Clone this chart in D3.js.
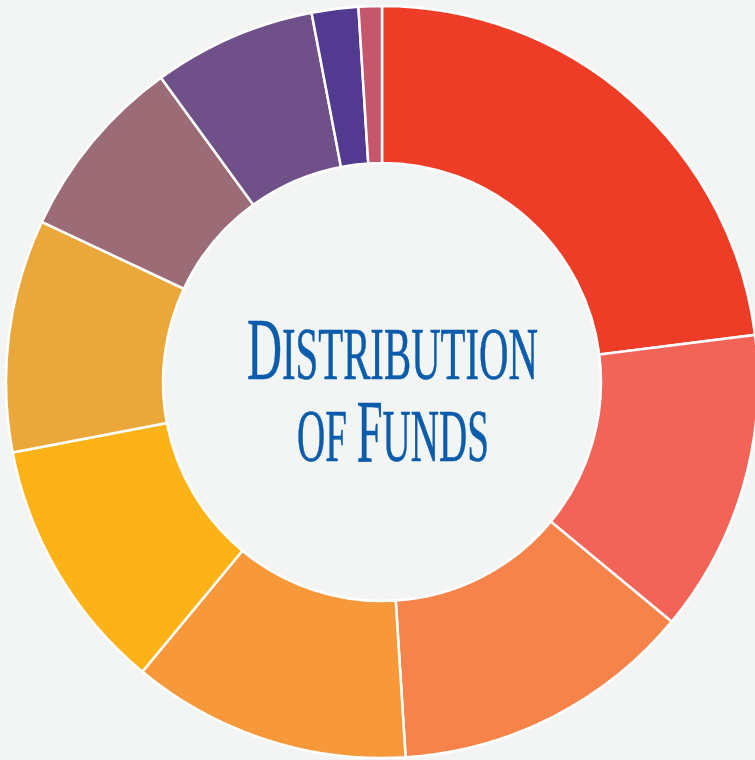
<!DOCTYPE html>
<html>
<head>
<meta charset="utf-8">
<script src="https://cdn.jsdelivr.net/npm/d3@7"></script>
<style>
	html, body { margin: 0; padding: 0; background: #f3f5f4; }
	svg { display: block; }
</style>
</head>
<body>
<svg id="chart" width="755" height="760"></svg>
<script>
// fund shares, clockwise from 12 o'clock (percent)
const categories = ['Fund A', 'Fund B', 'Fund C', 'Fund D', 'Fund E', 'Fund F', 'Fund G', 'Fund H', 'Fund I', 'Fund J'];
const shares = [23, 13, 13, 12, 11, 10, 8, 7, 2, 1];
const colors = ['#ee3d26', '#f26457', '#f5834a', '#f7993a', '#fdb317', '#eaa83a', '#9b6b76', '#6f5089', '#523a91', '#c5566b'];
const titleLines = [['D', 'istribution'], ['of ', 'F', 'unds']];

const width = 755;
const height = 760;
const cx = 382;
const cy = 382;
const outerR = 376;
const innerR = 219;

const svg = d3.select('#chart');

svg.append('rect')
	.attr('width', width)
	.attr('height', height)
	.attr('fill', '#f3f5f4');

const color = d3.scaleOrdinal()
	.domain(categories)
	.range(colors);

const data = categories.map(function (c, i) { return { name: c, value: shares[i] }; });

const pie = d3.pie()
	.sort(null)
	.value(function (d) { return d.value; });

const arc = d3.arc()
	.innerRadius(innerR)
	.outerRadius(outerR);

const g = svg.append('g')
	.attr('transform', 'translate(' + cx + ',' + cy + ')');

g.selectAll('path.slice')
	.data(pie(data))
	.join('path')
	.attr('class', 'slice')
	.attr('d', arc)
	.attr('fill', function (d) { return color(d.data.name); })
	.attr('stroke', '#ffffff')
	.attr('stroke-width', 2.5)
	.attr('stroke-linejoin', 'miter');

// centre title: tall condensed small caps, scaled to the width in the picture
const titleBox = [
	{ left: 247, right: 538, baseline: 379 },
	{ left: 297, right: 489, baseline: 461 }
];
const capSize = 88;
const smallSize = 74;

titleLines.forEach(function (parts, i) {
	const box = titleBox[i];
	const t = svg.append('text')
		.attr('x', 0)
		.attr('y', 0)
		.attr('font-family', '"Liberation Serif", "DejaVu Serif", serif')
		.attr('fill', '#0b5cab')
		.attr('stroke', '#0b5cab')
		.attr('stroke-width', 0.6);
	parts.forEach(function (p) {
		const isCap = p === p.toUpperCase() && p.trim().length > 0;
		t.append('tspan')
			.attr('font-size', isCap ? capSize : smallSize)
			.text(isCap ? p : p.toUpperCase());
	});
	const bb = t.node().getBBox();
	const sx = (box.right - box.left) / bb.width;
	t.attr('transform', 'translate(' + (box.left - bb.x * sx) + ',' + box.baseline + ') scale(' + sx + ',1)');
});
</script>
</body>
</html>
